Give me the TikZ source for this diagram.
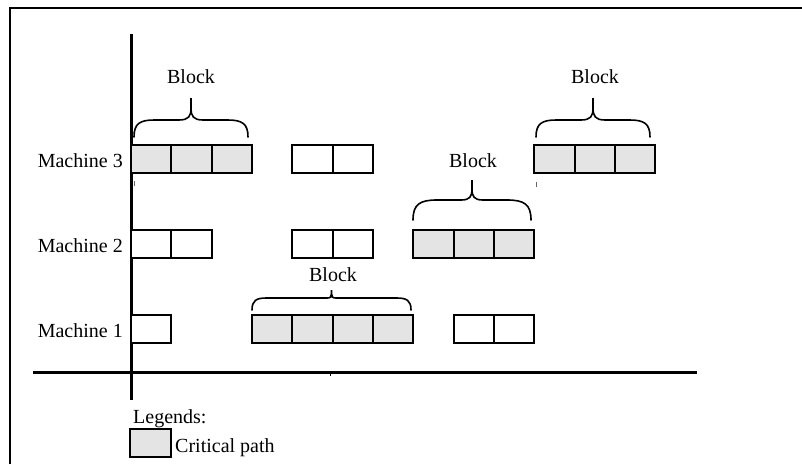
\documentclass[tikz,border=0pt]{standalone}
\usepackage{fontspec}
\setmainfont{Liberation Serif}
\definecolor{critfill}{RGB}{228,228,228}
\tikzset{
  every node/.style={font=\fontsize{20}{24}\selectfont, inner sep=0pt},
  cell/.style={draw, line width=1.8pt, minimum width=40.33pt, minimum height=28pt, outer sep=0pt},
  crit/.style={cell, fill=critfill},
  plain/.style={cell, fill=white},
  axis/.style={line width=3pt},
  frameline/.style={line width=2pt},
  bracestyle/.style={line width=1.6pt, line cap=round},
}
% curly brace over a block: left x, right x, end y, shoulder y, tip y
\newcommand{\blockbrace}[5]{%
  \pgfmathsetmacro\braceMid{(#1+#2)/2}%
  \pgfmathsetmacro\braceR{1.2*(#3-#4)}%
  \pgfmathsetmacro\braceC{0.55*(#4-#5)}%
  \draw[bracestyle] (#1,#3)
    .. controls (#1,{#4+0.2*(#3-#4)}) and ({#1+0.3*\braceR},#4) .. ({#1+\braceR},#4)
    -- ({\braceMid-\braceC},#4)
    .. controls ({\braceMid-0.2*\braceC},#4) and (\braceMid,{#4-0.3*\braceC}) .. (\braceMid,{#4-\braceC})
    -- (\braceMid,#5)
    -- (\braceMid,{#4-\braceC})
    .. controls (\braceMid,{#4-0.3*\braceC}) and ({\braceMid+0.2*\braceC},#4) .. ({\braceMid+\braceC},#4)
    -- ({#2-\braceR},#4)
    .. controls ({#2-0.3*\braceR},#4) and (#2,{#4+0.2*(#3-#4)}) .. (#2,#3);
}
\begin{document}
\begin{tikzpicture}[x=1pt, y=-1pt]
\useasboundingbox (0,0) rectangle (802,464);

% frame
\draw[frameline] (10.3,464) -- (10.3,7.7) -- (802,7.7);

% axes
\coordinate (ytop) at (131,34);
\coordinate (ybot) at (131,400);
\coordinate (xleft) at (33,372);
\coordinate (xright) at (697,372);
\draw[axis] (ytop) -- (ybot);
\draw[axis] (xleft) -- (xright);
\coordinate (tick) at (330,372);
\draw[line width=1pt] (tick) -- ++(0,4);

% faint marks under machine 3
\draw[line width=0.7pt, black!60] (134,181) -- (134,186);
\draw[line width=0.7pt, black!60] (536,182) -- (536,187);

% machine labels
\node[anchor=base east] (lab3) at (123,167) {Machine 3};
\node[anchor=base east] (lab2) at (123,252) {Machine 2};
\node[anchor=base east] (lab1) at (123,337) {Machine 1};

% operation cells
\foreach \nm/\k/\y/\kind in {
    m3a/0/159/crit, m3b/1/159/crit, m3c/2/159/crit,
    m3d/4/159/plain, m3e/5/159/plain,
    m3f/10/159/crit, m3g/11/159/crit, m3h/12/159/crit,
    m2a/0/244/plain, m2b/1/244/plain,
    m2c/4/244/plain, m2d/5/244/plain,
    m2e/7/244/crit, m2f/8/244/crit, m2g/9/244/crit,
    m1a/0/329/plain,
    m1b/3/329/crit, m1c/4/329/crit, m1d/5/329/crit, m1e/6/329/crit,
    m1f/8/329/plain, m1g/9/329/plain}
  \node[\kind] (\nm) at ({131+40.33*(\k+0.5)},\y) {};

% blocks
\blockbrace{134}{248}{137}{120}{98}
\node[anchor=base] (blk1) at (191,83) {Block};
\blockbrace{536}{650}{137}{120}{98}
\node[anchor=base] (blk2) at (595,83) {Block};
\blockbrace{413}{531}{220}{200}{180}
\node[anchor=base] (blk3) at (473,167) {Block};
\blockbrace{252}{411}{310}{298}{290}
\node[anchor=base] (blk4) at (333,281) {Block};

% legend
\node[anchor=base west] (leg) at (133,423) {Legends:};
\node[crit, minimum width=41pt] (legbox) at (150.5,443) {};
\node[anchor=base west] (legtxt) at (175,452) {Critical path};
\end{tikzpicture}
\end{document}
